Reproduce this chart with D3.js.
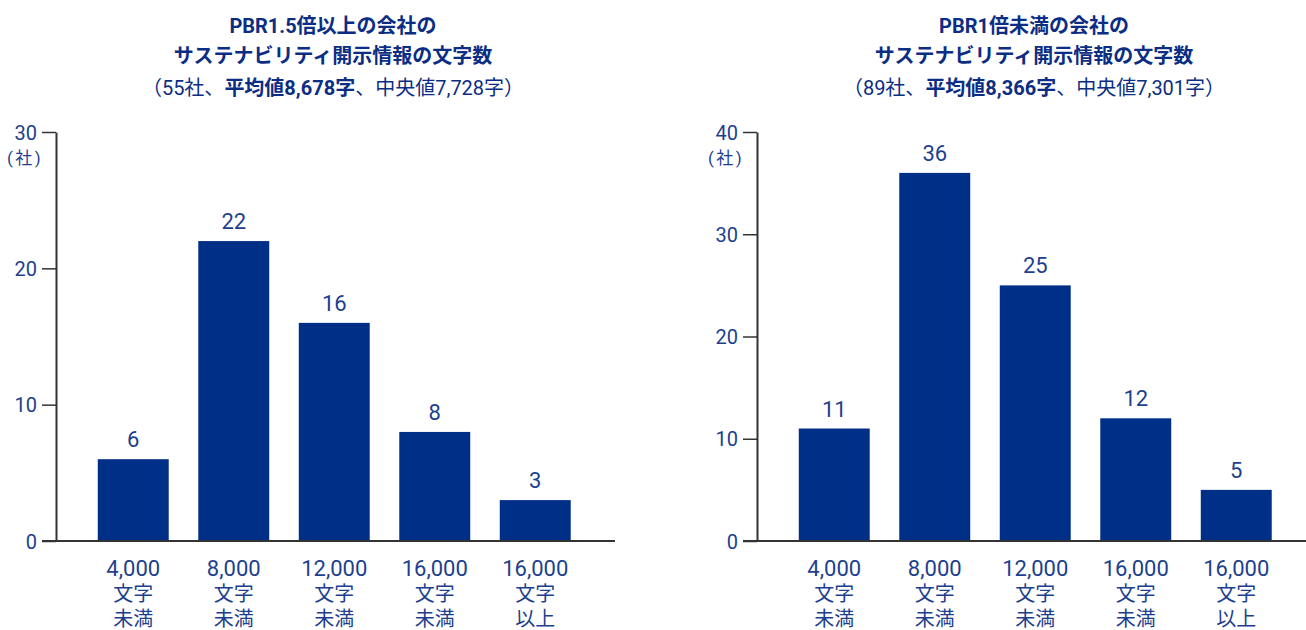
<!DOCTYPE html>
<html lang="ja">
<head>
<meta charset="utf-8">
<title>サステナビリティ開示情報の文字数</title>
<script src="https://cdn.jsdelivr.net/npm/d3@7/dist/d3.min.js"></script>
<style>
  html, body { margin: 0; padding: 0; background: #ffffff; }
  svg { display: block; }
  text { font-family: Roboto, "Noto Sans CJK JP", sans-serif; }
</style>
</head>
<body>
<svg id="chart" width="1306" height="630"></svg>
<script>
// Character-count bins (three text lines under each bar)
const binLines = [
  ["4,000", "文字", "未満"],
  ["8,000", "文字", "未満"],
  ["12,000", "文字", "未満"],
  ["16,000", "文字", "未満"],
  ["16,000", "文字", "以上"]
];

// Number of companies in each bin
const highPbrCounts = [6, 22, 16, 8, 3];
const lowPbrCounts = [11, 36, 25, 12, 5];

// Y-axis ticks
const highPbrTicks = [0, 10, 20, 30];
const lowPbrTicks = [0, 10, 20, 30, 40];

// Title lines; the third line mixes regular and bold runs
const highPbrTitle = ["PBR1.5倍以上の会社の", "サステナビリティ開示情報の文字数"];
const highPbrSummary = [["（55社、", false], ["平均値8,678字", true], ["、中央値7,728字）", false]];
const lowPbrTitle = ["PBR1倍未満の会社の", "サステナビリティ開示情報の文字数"];
const lowPbrSummary = [["（89社、", false], ["平均値8,366字", true], ["、中央値7,301字）", false]];

const BAR = "#002f87";
const TITLE = "#0b2d83";
const LABEL = "#1d3f8e";
const AXIS = "#333333";

const svg = d3.select("#chart");

function drawPanel(offsetX, counts, ticks, title, summary, baselineEnd) {
  const g = svg.append("g").attr("transform", `translate(${offsetX},0)`);
  const axisX = 56;
  const yTop = 132, yBottom = 541;

  const y = d3.scaleLinear().domain([0, d3.max(ticks)]).range([yBottom, yTop]);
  const x = d3.scaleBand()
    .domain(d3.range(counts.length))
    .range([83, 585.5])
    .paddingInner(0.294)
    .paddingOuter(0.147);

  // Title
  const t = g.append("text")
    .attr("text-anchor", "middle")
    .attr("fill", TITLE);
  title.forEach((line, i) => {
    t.append("tspan")
      .attr("x", 333)
      .attr("y", 33 + i * 30)
      .attr("font-size", 20)
      .attr("font-weight", "bold")
      .text(line);
  });
  const s = g.append("text")
    .attr("x", 333)
    .attr("y", 95)
    .attr("text-anchor", "middle")
    .attr("fill", TITLE)
    .attr("font-size", 20);
  summary.forEach(([txt, bold]) => {
    s.append("tspan").attr("font-weight", bold ? "bold" : "normal").text(txt);
  });

  // Bars
  g.selectAll("rect.bar")
    .data(counts)
    .join("rect")
    .attr("class", "bar")
    .attr("x", (d, i) => x(i))
    .attr("y", d => y(d))
    .attr("width", x.bandwidth())
    .attr("height", d => y(0) - y(d))
    .attr("fill", BAR);

  // Value labels
  g.selectAll("text.value")
    .data(counts)
    .join("text")
    .attr("class", "value")
    .attr("x", (d, i) => x(i) + x.bandwidth() / 2)
    .attr("y", d => y(d) - 12)
    .attr("text-anchor", "middle")
    .attr("font-size", 22)
    .attr("fill", LABEL)
    .text(d => d);

  // Y axis
  const axis = g.append("g")
    .attr("transform", `translate(${axisX},0)`)
    .call(d3.axisLeft(y).tickValues(ticks).tickSize(14).tickSizeOuter(0).tickPadding(5));
  axis.select(".domain").attr("stroke", AXIS).attr("stroke-width", 2);
  axis.selectAll(".tick line").attr("stroke", AXIS).attr("stroke-width", 1.5);
  axis.selectAll(".tick text")
    .attr("fill", LABEL)
    .attr("font-size", 20)
    .attr("font-family", 'Roboto, "Noto Sans CJK JP", sans-serif')
    .attr("dy", "0.35em");

  // Unit label under the top tick
  g.append("text")
    .attr("x", axisX - 31)
    .attr("y", y(d3.max(ticks)) + 32)
    .attr("text-anchor", "middle")
    .attr("font-size", 17)
    .attr("letter-spacing", 2.5)
    .attr("fill", LABEL)
    .text("(社)");

  // Baseline
  g.append("line")
    .attr("x1", axisX - 14)
    .attr("x2", baselineEnd)
    .attr("y1", y(0))
    .attr("y2", y(0))
    .attr("stroke", AXIS)
    .attr("stroke-width", 2);

  // Category labels
  const cat = g.selectAll("text.cat")
    .data(binLines)
    .join("text")
    .attr("class", "cat")
    .attr("text-anchor", "middle")
    .attr("fill", LABEL);
  cat.each(function (lines, i) {
    const el = d3.select(this);
    const cx = x(i) + x.bandwidth() / 2;
    lines.forEach((ln, j) => {
      el.append("tspan")
        .attr("x", cx)
        .attr("y", 576 + j * 25)
        .attr("font-size", j === 0 ? 22 : 20)
        .text(ln);
    });
  });
}

drawPanel(0, highPbrCounts, highPbrTicks, highPbrTitle, highPbrSummary, 615);
drawPanel(701, lowPbrCounts, lowPbrTicks, lowPbrTitle, lowPbrSummary, 605);
</script>
</body>
</html>
